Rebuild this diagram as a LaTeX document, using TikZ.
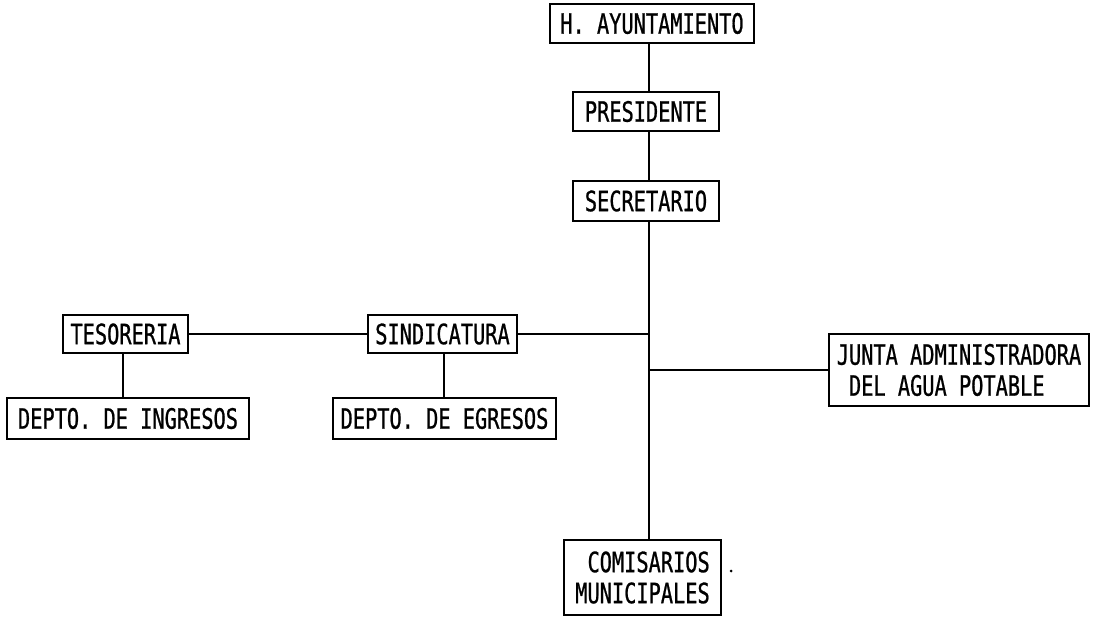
\documentclass[tikz,border=0pt]{standalone}
\usepackage{fontspec}
\newfontfamily\orgfont[FakeStretch=0.725,FakeBold=0.8]{DejaVu Sans Mono}
\begin{document}
\begin{tikzpicture}[x=1pt,y=-1pt,
  box/.style={draw, line width=1.6pt, inner sep=0pt, rectangle,
    font=\orgfont\fontsize{28}{31}\selectfont},
  conn/.style={line width=1.6pt}]
\useasboundingbox (0,0) rectangle (1093,617);
\fill[white] (0,0) rectangle (1093,617);
\coordinate (t) at (649,0);
\node[box, minimum width=204pt, minimum height=39pt] (ayun) at (652,23.5) {H. AYUNTAMIENTO};
\node[box, minimum width=146pt, minimum height=39pt] (pres) at (646,111.5) {PRESIDENTE};
\node[box, minimum width=146pt, minimum height=40pt] (sec) at (646,201) {SECRETARIO};
\node[box, minimum width=125pt, minimum height=38pt] (tes) at (125.5,334) {TESORERIA};
\node[box, minimum width=149pt, minimum height=38pt] (sind) at (442.5,334) {SINDICATURA};
\node[box, minimum width=242pt, minimum height=41pt] (ding) at (128,418.5) {DEPTO. DE INGRESOS};
\node[box, minimum width=223pt, minimum height=41pt] (degr) at (444.5,418.5) {DEPTO. DE EGRESOS};
\node[box, minimum width=260pt, minimum height=72pt, align=left] (junta) at (959,370) {JUNTA ADMINISTRADORA\\\phantom{D}DEL AGUA POTABLE};
\node[box, minimum width=157pt, minimum height=75pt, align=right] (comis) at (642.5,577.5) {COMISARIOS\\MUNICIPALES};
\draw[conn] (ayun.south -| t) -- (pres.north -| t);
\draw[conn] (pres.south -| t) -- (sec.north -| t);
\draw[conn] (sec.south -| t) -- (comis.north -| t);
\draw[conn] (tes.east) -- (sind.west);
\draw[conn] (sind.east) -- (sind.east -| t);
\draw[conn] (junta.west) -- (junta.west -| t);
\draw[conn] (tes.south -| 123,0) -- (ding.north -| 123,0);
\draw[conn] (sind.south -| 444,0) -- (degr.north -| 444,0);
\fill (731,571) circle (1.5pt);
\end{tikzpicture}
\end{document}
